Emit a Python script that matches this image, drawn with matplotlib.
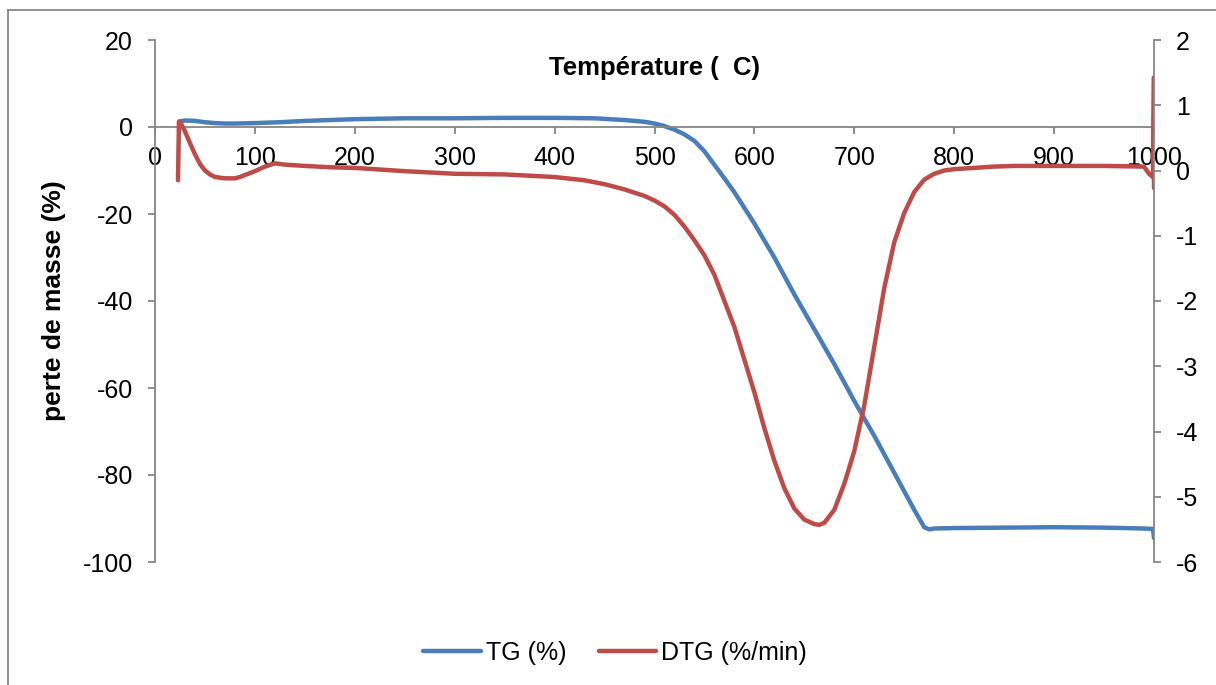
import matplotlib.pyplot as plt
from matplotlib.lines import Line2D

plt.rcParams['font.family'] = ['Liberation Sans', 'DejaVu Sans']
plt.rcParams['axes.unicode_minus'] = False

# TG (%)
tg_temp = [25, 30, 40, 50, 60, 70, 80, 100, 125, 150, 175, 200, 250, 300, 350,
           400, 440, 470, 490, 500, 510, 520, 530, 540, 550, 560, 570, 580, 590,
           600, 620, 640, 660, 680, 700, 720, 740, 760, 770, 775, 780, 800, 850,
           900, 950, 990, 999, 1000]
tg_vals = [1.3, 1.5, 1.4, 1.1, 0.9, 0.8, 0.8, 0.9, 1.1, 1.4, 1.6, 1.8, 2.0, 2.0, 2.1,
           2.1, 2.0, 1.6, 1.2, 0.8, 0.2, -0.6, -1.7, -3.2, -5.6, -8.7, -11.8, -15.0, -18.6,
           -22.2, -30.0, -38.5, -46.5, -54.5, -63.0, -71.0, -79.5, -88.0, -92.0, -92.5, -92.3, -92.2, -92.1,
           -92.0, -92.1, -92.3, -92.4, -94.5]

# DTG (%/min)
dtg_temp = [23, 24, 26, 30, 35, 40, 45, 50, 55, 60, 70, 80, 85, 90, 100, 110, 120,
            130, 150, 175, 200, 250, 300, 350, 400, 430, 450, 470, 490, 500, 510,
            520, 530, 540, 550, 560, 570, 580, 590, 600, 610, 620, 630, 640, 650,
            660, 665, 670, 680, 690, 700, 710, 720, 730, 740, 750, 760, 770, 780,
            790, 800, 820, 840, 860, 900, 950, 990, 995, 999, 1000, 1000]
dtg_vals = [-0.15, 0.75, 0.72, 0.6, 0.42, 0.25, 0.1, 0.0, -0.06, -0.1, -0.12, -0.12, -0.1, -0.07, -0.01, 0.06, 0.11,
            0.09, 0.07, 0.05, 0.04, -0.01, -0.05, -0.06, -0.1, -0.15, -0.21, -0.29, -0.39, -0.46, -0.55,
            -0.68, -0.86, -1.07, -1.3, -1.6, -2.0, -2.4, -2.9, -3.4, -3.95, -4.45, -4.87, -5.18, -5.35,
            -5.42, -5.43, -5.4, -5.2, -4.8, -4.3, -3.6, -2.7, -1.8, -1.1, -0.65, -0.33, -0.14, -0.05,
            0.0, 0.02, 0.04, 0.06, 0.07, 0.07, 0.07, 0.06, -0.05, -0.1, 1.43, -0.27]

blue = '#4A7EBB'
red = '#BE4B48'
gray = '#868686'

fig = plt.figure(figsize=(12.16, 6.85), dpi=100)
ax = fig.add_axes([155/1216, 1 - 562/685, (1154 - 155)/1216, (562 - 40)/685])
ax2 = ax.twinx()

l1, = ax.plot(tg_temp, tg_vals, color=blue, lw=3.2, solid_capstyle='round',
              solid_joinstyle='round', label='TG (%)')
l2, = ax2.plot(dtg_temp, dtg_vals, color=red, lw=3.2, solid_capstyle='round',
               solid_joinstyle='round', label='DTG (%/min)')

ax.set_xlim(0, 1000)
ax.set_ylim(-100, 20)
ax2.set_ylim(-6, 2)
ax.set_xticks(range(0, 1001, 100))
ax.set_yticks(range(-100, 21, 20))
ax2.set_yticks(range(-6, 3, 1))

for a in (ax, ax2):
    a.spines['top'].set_visible(False)
    for s in a.spines.values():
        s.set_color(gray)
        s.set_linewidth(1.3)
ax.spines['right'].set_visible(False)
ax2.spines['left'].set_visible(False)
ax2.spines['bottom'].set_visible(False)
ax.spines['bottom'].set_position(('data', 0))

ax.tick_params(axis='both', direction='out', length=5, width=1.3, color=gray,
               labelsize=18, pad=11)
ax.tick_params(axis='x', pad=9)
ax2.tick_params(axis='y', direction='out', length=5, width=1.3, color=gray,
                labelsize=18, pad=11)

ax.text(0.5, 0.946, 'Température (  C)', transform=ax.transAxes, ha='center',
        va='center', fontsize=18.5, fontweight='bold')
ax.set_ylabel('perte de masse (%)', fontsize=19, fontweight='bold', labelpad=12)

fig.legend(handles=[l1, l2], loc='center', bbox_to_anchor=(615/1216, 1 - 653/685),
           ncol=2, frameon=False, fontsize=18, handlelength=2.3,
           handletextpad=0.2, columnspacing=1.3)

# outer chart frame
fig.add_artist(Line2D([8/1216, 8/1216], [0, 1 - 10/685], color=gray, lw=1.3,
                      transform=fig.transFigure))
fig.add_artist(Line2D([8/1216, 1], [1 - 10/685, 1 - 10/685], color=gray, lw=1.3,
                      transform=fig.transFigure))

fig.savefig('out.png', dpi=100)
